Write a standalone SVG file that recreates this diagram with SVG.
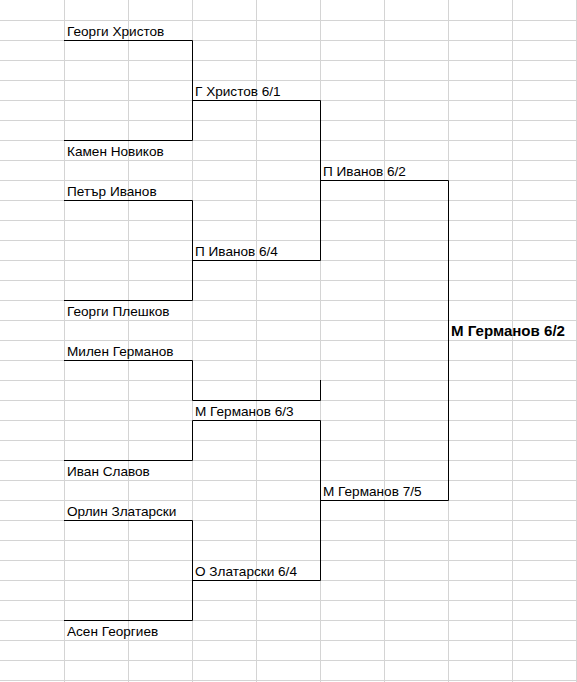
<svg xmlns="http://www.w3.org/2000/svg" width="577" height="682" viewBox="0 0 577 682">
<style>
.grid line{stroke:#d4d4d4;stroke-width:1}
.conn path{stroke:#000;stroke-width:1;fill:none}
text{font-family:"Liberation Sans",Arial,sans-serif;font-size:13.6px;fill:#000}
.b{font-weight:bold;font-size:14.5px}
</style>
<rect x="0" y="0" width="577" height="682" fill="#fff"/>
<g class="grid">
<line x1="64.5" y1="0" x2="64.5" y2="682"/><line x1="128.5" y1="0" x2="128.5" y2="682"/><line x1="192.5" y1="0" x2="192.5" y2="682"/><line x1="256.5" y1="0" x2="256.5" y2="682"/><line x1="320.5" y1="0" x2="320.5" y2="682"/><line x1="384.5" y1="0" x2="384.5" y2="682"/><line x1="448.5" y1="0" x2="448.5" y2="682"/><line x1="512.5" y1="0" x2="512.5" y2="682"/><line x1="576.5" y1="0" x2="576.5" y2="682"/>
<line x1="0" y1="20.5" x2="577" y2="20.5"/><line x1="0" y1="40.5" x2="577" y2="40.5"/><line x1="0" y1="60.5" x2="577" y2="60.5"/><line x1="0" y1="80.5" x2="577" y2="80.5"/><line x1="0" y1="100.5" x2="577" y2="100.5"/><line x1="0" y1="120.5" x2="577" y2="120.5"/><line x1="0" y1="140.5" x2="577" y2="140.5"/><line x1="0" y1="160.5" x2="577" y2="160.5"/><line x1="0" y1="180.5" x2="577" y2="180.5"/><line x1="0" y1="200.5" x2="577" y2="200.5"/><line x1="0" y1="220.5" x2="577" y2="220.5"/><line x1="0" y1="240.5" x2="577" y2="240.5"/><line x1="0" y1="260.5" x2="577" y2="260.5"/><line x1="0" y1="280.5" x2="577" y2="280.5"/><line x1="0" y1="300.5" x2="577" y2="300.5"/><line x1="0" y1="320.5" x2="577" y2="320.5"/><line x1="0" y1="340.5" x2="577" y2="340.5"/><line x1="0" y1="360.5" x2="577" y2="360.5"/><line x1="0" y1="380.5" x2="577" y2="380.5"/><line x1="0" y1="400.5" x2="577" y2="400.5"/><line x1="0" y1="420.5" x2="577" y2="420.5"/><line x1="0" y1="440.5" x2="577" y2="440.5"/><line x1="0" y1="460.5" x2="577" y2="460.5"/><line x1="0" y1="480.5" x2="577" y2="480.5"/><line x1="0" y1="500.5" x2="577" y2="500.5"/><line x1="0" y1="520.5" x2="577" y2="520.5"/><line x1="0" y1="540.5" x2="577" y2="540.5"/><line x1="0" y1="560.5" x2="577" y2="560.5"/><line x1="0" y1="580.5" x2="577" y2="580.5"/><line x1="0" y1="600.5" x2="577" y2="600.5"/><line x1="0" y1="620.5" x2="577" y2="620.5"/><line x1="0" y1="640.5" x2="577" y2="640.5"/><line x1="0" y1="660.5" x2="577" y2="660.5"/><line x1="0" y1="680.5" x2="577" y2="680.5"/>
</g>
<g id="connectors" class="conn">
<path d="M64 40.5H192.5V140.5H64"/>
<path d="M192.5 100.5H320.5V260.5H192.5"/>
<path d="M64 200.5H192.5V300.5H64"/>
<path d="M320.5 180.5H448.5V500.5H320.5"/>
<path d="M64 360.5H192.5V400.5H320.5V380"/>
<path d="M192.5 460.5V420.5H320.5V580.5H192.5"/>
<path d="M64 460.5H192.5"/>
<path d="M64 520.5H192.5V620.5H64"/>
</g>
<g id="n-r1-1"><text x="67" y="36">Георги Христов</text></g>
<g id="n-r1-2"><text x="67" y="156">Камен Новиков</text></g>
<g id="n-r1-3"><text x="67" y="196">Петър Иванов</text></g>
<g id="n-r1-4"><text x="67" y="316">Георги Плешков</text></g>
<g id="n-r1-5"><text x="67" y="356">Милен Германов</text></g>
<g id="n-r1-6"><text x="67" y="476">Иван Славов</text></g>
<g id="n-r1-7"><text x="67" y="516">Орлин Златарски</text></g>
<g id="n-r1-8"><text x="67" y="636">Асен Георгиев</text></g>
<g id="n-r2-1"><text x="195" y="96">Г Христов 6/1</text></g>
<g id="n-r2-2"><text x="195" y="256">П Иванов 6/4</text></g>
<g id="n-r2-3"><text x="195" y="416">М Германов 6/3</text></g>
<g id="n-r2-4"><text x="195" y="576">О Златарски 6/4</text></g>
<g id="n-r3-1"><text x="323" y="176">П Иванов 6/2</text></g>
<g id="n-r3-2"><text x="323" y="496">М Германов 7/5</text></g>
<g id="n-final"><text class="b" x="451" y="336" textLength="114" lengthAdjust="spacingAndGlyphs">М Германов 6/2</text></g>
</svg>
